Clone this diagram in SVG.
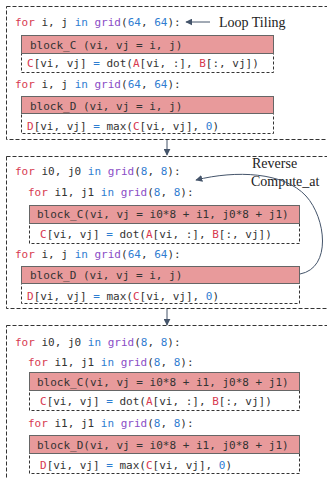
<svg xmlns="http://www.w3.org/2000/svg" width="327" height="478" viewBox="0 0 327 478">
  <style>
    .code { font-family: "DejaVu Sans Mono", "Liberation Mono", monospace; font-size: 11px; fill: #333; white-space: pre; }
    .kw { fill: #d7394f; }
    .bl { fill: #2f7dd1; }
    .fn { fill: #8a4dc6; }
    .rd { fill: #d7394f; }
    .note { font-family: "Liberation Serif", "Times New Roman", serif; font-size: 14px; fill: #222; }
    .panel { fill: none; stroke: #333; stroke-width: 1; stroke-dasharray: 4 2; }
    .body { fill: #fff; stroke: #333; stroke-width: 1; stroke-dasharray: 3 2; }
    .head { fill: #e89a9b; stroke: #666; stroke-width: 1; }
    .conn { fill: none; stroke: #44546a; stroke-width: 1; }
  </style>
  <defs>
    <marker id="arrow" viewBox="0 0 10 10" refX="9" refY="5" markerWidth="7" markerHeight="7" orient="auto-start-reverse" markerUnits="userSpaceOnUse">
      <path d="M0,0 L10,5 L0,10 z" fill="#44546a"/>
    </marker>
  </defs>
  <rect width="327" height="478" fill="#fff"/>

  <!-- stage 1: loop tiling -->
  <g id="stage1">
    <rect class="panel" x="6.5" y="6.5" width="330" height="133"/>
    <text class="code" x="15" y="26"><tspan class="kw">for</tspan> i, j <tspan class="bl">in</tspan> <tspan class="fn">grid</tspan>(<tspan class="bl">64</tspan>, <tspan class="bl">64</tspan>):</text>
    <g id="s1_blockC">
      <rect class="body" x="21.5" y="53.5" width="252" height="19"/>
      <rect class="head" x="21.5" y="35.5" width="252" height="18"/>
      <text class="code" x="30" y="49">block_C (vi, vj = i, j)</text>
      <text class="code" x="27" y="67"><tspan class="rd">C</tspan>[vi, vj] <tspan class="bl">=</tspan> dot(<tspan class="rd">A</tspan>[vi, :], <tspan class="rd">B</tspan>[:, vj])</text>
    </g>
    <text class="code" x="15" y="88"><tspan class="kw">for</tspan> i, j <tspan class="bl">in</tspan> <tspan class="fn">grid</tspan>(<tspan class="bl">64</tspan>, <tspan class="bl">64</tspan>):</text>
    <g id="s1_blockD">
      <rect class="body" x="21.5" y="113.5" width="252" height="20"/>
      <rect class="head" x="21.5" y="96.5" width="252" height="17"/>
      <text class="code" x="30" y="110">block_D (vi, vj = i, j)</text>
      <text class="code" x="27" y="130"><tspan class="rd">D</tspan>[vi, vj] <tspan class="bl">=</tspan> max(<tspan class="rd">C</tspan>[vi, vj], <tspan class="bl">0</tspan>)</text>
    </g>
    <text class="note" x="219" y="27">Loop Tiling</text>
  </g>

  <!-- stage 2: reverse compute_at -->
  <g id="stage2">
    <rect class="panel" x="6.5" y="156.5" width="330" height="152"/>
    <text class="code" x="15" y="175"><tspan class="kw">for</tspan> i0, j0 <tspan class="bl">in</tspan> <tspan class="fn">grid</tspan>(<tspan class="bl">8</tspan>, <tspan class="bl">8</tspan>):</text>
    <text class="code" x="28" y="196"><tspan class="kw">for</tspan> i1, j1 <tspan class="bl">in</tspan> <tspan class="fn">grid</tspan>(<tspan class="bl">8</tspan>, <tspan class="bl">8</tspan>):</text>
    <g id="s2_blockC">
      <rect class="body" x="29.5" y="223.5" width="270" height="20"/>
      <rect class="head" x="29.5" y="205.5" width="270" height="18"/>
      <text class="code" x="37" y="218">block_C(vi, vj = i0*8 + i1, j0*8 + j1)</text>
      <text class="code" x="40" y="238"><tspan class="rd">C</tspan>[vi, vj] <tspan class="bl">=</tspan> dot(<tspan class="rd">A</tspan>[vi, :], <tspan class="rd">B</tspan>[:, vj])</text>
    </g>
    <text class="code" x="15" y="258"><tspan class="kw">for</tspan> i, j <tspan class="bl">in</tspan> <tspan class="fn">grid</tspan>(<tspan class="bl">64</tspan>, <tspan class="bl">64</tspan>):</text>
    <g id="s2_blockD">
      <rect class="body" x="21.5" y="283.5" width="278" height="20"/>
      <rect class="head" x="21.5" y="266.5" width="278" height="17"/>
      <text class="code" x="30" y="279">block_D (vi, vj = i, j)</text>
      <text class="code" x="27" y="300"><tspan class="rd">D</tspan>[vi, vj] <tspan class="bl">=</tspan> max(<tspan class="rd">C</tspan>[vi, vj], <tspan class="bl">0</tspan>)</text>
    </g>
    <text class="note" x="252" y="168">Reverse</text>
    <text class="note" x="251" y="186">Compute_at</text>
  </g>

  <!-- stage 3: result -->
  <g id="stage3">
    <rect class="panel" x="6.5" y="325.5" width="330" height="160"/>
    <text class="code" x="15" y="346"><tspan class="kw">for</tspan> i0, j0 <tspan class="bl">in</tspan> <tspan class="fn">grid</tspan>(<tspan class="bl">8</tspan>, <tspan class="bl">8</tspan>):</text>
    <text class="code" x="28" y="366"><tspan class="kw">for</tspan> i1, j1 <tspan class="bl">in</tspan> <tspan class="fn">grid</tspan>(<tspan class="bl">8</tspan>, <tspan class="bl">8</tspan>):</text>
    <g id="s3_blockC">
      <rect class="body" x="29.5" y="390.5" width="270" height="20"/>
      <rect class="head" x="29.5" y="372.5" width="270" height="18"/>
      <text class="code" x="37" y="386">block_C(vi, vj = i0*8 + i1, j0*8 + j1)</text>
      <text class="code" x="40" y="405"><tspan class="rd">C</tspan>[vi, vj] <tspan class="bl">=</tspan> dot(<tspan class="rd">A</tspan>[vi, :], <tspan class="rd">B</tspan>[:, vj])</text>
    </g>
    <text class="code" x="28" y="427"><tspan class="kw">for</tspan> i1, j1 <tspan class="bl">in</tspan> <tspan class="fn">grid</tspan>(<tspan class="bl">8</tspan>, <tspan class="bl">8</tspan>):</text>
    <g id="s3_blockD">
      <rect class="body" x="29.5" y="453.5" width="270" height="20"/>
      <rect class="head" x="29.5" y="435.5" width="270" height="18"/>
      <text class="code" x="37" y="449">block_D(vi, vj = i0*8 + i1, j0*8 + j1)</text>
      <text class="code" x="40" y="469"><tspan class="rd">D</tspan>[vi, vj] <tspan class="bl">=</tspan> max(<tspan class="rd">C</tspan>[vi, vj], <tspan class="bl">0</tspan>)</text>
    </g>
  </g>

  <!-- connectors -->
  <g id="connectors">
    <line class="conn" x1="210" y1="22" x2="186" y2="22" marker-end="url(#arrow)"/>
    <line class="conn" x1="167" y1="140" x2="167" y2="155" marker-end="url(#arrow)"/>
    <line class="conn" x1="167" y1="309" x2="167" y2="325" marker-end="url(#arrow)"/>
    <path class="conn" d="M300,274 C332,268 326,218 306,196 C284,172 236,170 196,180" marker-end="url(#arrow)"/>
  </g>
</svg>
